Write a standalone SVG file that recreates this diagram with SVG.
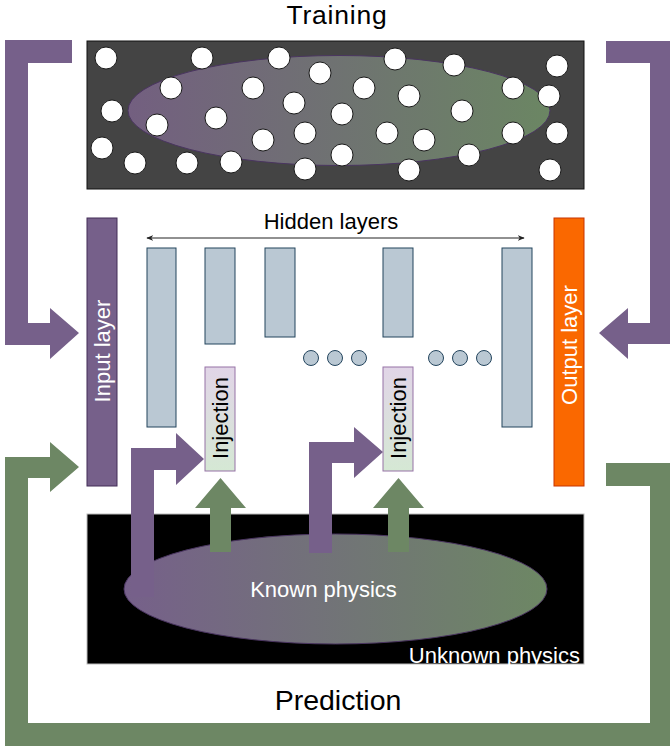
<svg xmlns="http://www.w3.org/2000/svg" width="670" height="748" viewBox="0 0 670 748">
<defs>
<style>
text{font-family:"Liberation Sans",Arial,Helvetica,sans-serif;}
.t22{font-size:22px;}
.big{font-size:28.5px;fill:#000;text-anchor:middle;}
.white{fill:#fff;}
.hid{fill:#bac8d3;stroke:#23445d;stroke-width:1;}
.dot{fill:#bac8d3;stroke:#23445d;stroke-width:1;}
.p{fill:#fff;stroke:#1a1a1a;stroke-width:1;}
.purple{fill:#76608a;}
.green{fill:#6d8764;}
.inj{fill:url(#gInj);stroke:#9673a6;stroke-width:1;}
</style>
<linearGradient id="gTop" x1="0" y1="0" x2="1" y2="0">
<stop offset="0" stop-color="#735f80"/>
<stop offset="1" stop-color="#6b8663"/>
</linearGradient>
<linearGradient id="gBot" x1="0" y1="0" x2="1" y2="0">
<stop offset="0" stop-color="#76608a"/>
<stop offset="1" stop-color="#6d8764"/>
</linearGradient>
<linearGradient id="gInj" x1="0" y1="0" x2="0" y2="1">
<stop offset="0" stop-color="#e1d5e7"/>
<stop offset="1" stop-color="#d5e8d4"/>
</linearGradient>
<marker id="ah" viewBox="0 0 10 10" refX="9" refY="5" markerWidth="7" markerHeight="7" orient="auto-start-reverse" markerUnits="userSpaceOnUse">
<path d="M0,1 L10,5 L0,9 L3,5 Z" fill="#222"/>
</marker>
</defs>
<rect width="670" height="748" fill="#fff"/>

<g id="training-label"><text x="337" y="24" style="font-size:26.5px;letter-spacing:0.8px" fill="#000" text-anchor="middle">Training</text></g>
<g id="prediction-label"><text class="big" x="338" y="710">Prediction</text></g>

<g id="training-data">
<rect x="87" y="41" width="497" height="148" fill="#444" stroke="#111" stroke-width="1"/>
<ellipse cx="339" cy="110.5" rx="211" ry="55" fill="url(#gTop)" stroke="#4a3560" stroke-width="1"/>
<circle class="p" cx="106" cy="58" r="11"/><circle class="p" cx="202" cy="58" r="11"/><circle class="p" cx="279" cy="58" r="11"/><circle class="p" cx="320" cy="73" r="11"/>
<circle class="p" cx="395" cy="59" r="11"/><circle class="p" cx="454" cy="65" r="11"/><circle class="p" cx="557" cy="66" r="11"/><circle class="p" cx="171" cy="88" r="11"/>
<circle class="p" cx="253" cy="88" r="11"/><circle class="p" cx="364" cy="88" r="11"/><circle class="p" cx="409" cy="96" r="11"/><circle class="p" cx="513" cy="88" r="11"/>
<circle class="p" cx="549" cy="96" r="11"/><circle class="p" cx="112" cy="111" r="11"/><circle class="p" cx="294" cy="103" r="11"/><circle class="p" cx="216" cy="118" r="11"/>
<circle class="p" cx="342" cy="114" r="11"/><circle class="p" cx="462" cy="111" r="11"/><circle class="p" cx="157" cy="125" r="11"/><circle class="p" cx="263" cy="140" r="11"/>
<circle class="p" cx="305" cy="133" r="11"/><circle class="p" cx="387" cy="133" r="11"/><circle class="p" cx="424" cy="140" r="11"/><circle class="p" cx="513" cy="133" r="11"/>
<circle class="p" cx="557" cy="133" r="11"/><circle class="p" cx="102" cy="148" r="11"/><circle class="p" cx="135" cy="163" r="11"/><circle class="p" cx="187" cy="163" r="11"/>
<circle class="p" cx="231" cy="162" r="11"/><circle class="p" cx="305" cy="169" r="11"/><circle class="p" cx="342" cy="155" r="11"/><circle class="p" cx="469" cy="155" r="11"/>
<circle class="p" cx="409" cy="170" r="11"/><circle class="p" cx="550" cy="170" r="11"/>
</g>

<g id="physics">
<rect x="87" y="514" width="497" height="150" fill="#000" stroke="#bbb" stroke-width="1"/>
<ellipse cx="335.5" cy="589" rx="211.5" ry="55" fill="url(#gBot)" stroke="#4a3560" stroke-width="1"/>
</g>

<g id="input-layer">
<rect x="87" y="218" width="30" height="268" fill="#76608a" stroke="#432d57" stroke-width="1"/>
<text class="t22 white" text-anchor="middle" x="102" y="351" dy="0.35em" transform="rotate(-90 102 351)">Input layer</text>
</g>

<g id="output-layer">
<rect x="554" y="218" width="30" height="268" fill="#fa6800" stroke="#c73500" stroke-width="1"/>
<text class="t22 white" text-anchor="middle" x="569" y="345" dy="0.35em" transform="rotate(-90 569 345)">Output layer</text>
</g>

<g id="hidden-layers-label"><text class="t22" text-anchor="middle" x="331" y="229" fill="#000">Hidden layers</text></g>

<g id="hidden-1"><rect class="hid" x="147" y="248" width="29" height="179"/></g>
<g id="hidden-2"><rect class="hid" x="205" y="248" width="30" height="96"/></g>
<g id="hidden-3"><rect class="hid" x="265" y="248" width="30" height="89"/></g>
<g id="hidden-4"><rect class="hid" x="383" y="248" width="30" height="89"/></g>
<g id="hidden-5"><rect class="hid" x="502" y="248" width="30" height="179"/></g>

<g id="dots">
<circle class="dot" cx="311" cy="358" r="7.5"/><circle class="dot" cx="335" cy="358" r="7.5"/><circle class="dot" cx="359" cy="358" r="7.5"/>
<circle class="dot" cx="436" cy="358" r="7.5"/><circle class="dot" cx="460" cy="358" r="7.5"/><circle class="dot" cx="484" cy="358" r="7.5"/>
</g>

<g id="injection-1">
<rect class="inj" x="205" y="367" width="30" height="104"/>
<text class="t22" text-anchor="middle" x="220" y="418" dy="0.35em" fill="#000" transform="rotate(-90 220 418)">Injection</text>
</g>
<g id="injection-2">
<rect class="inj" x="383" y="367" width="30" height="104"/>
<text class="t22" text-anchor="middle" x="398" y="418" dy="0.35em" fill="#000" transform="rotate(-90 398 418)">Injection</text>
</g>

<g id="connectors">
<line x1="147" y1="238" x2="524" y2="238" stroke="#222" stroke-width="1" marker-start="url(#ah)" marker-end="url(#ah)"/>
<path class="purple" d="M5,40 H72 V63 H28 V323 H50 V308 L79,333 L50,359 V345 H5 Z"/>
<path class="purple" d="M606,41 H673 V344 H628 V359 L599,333 L628,308 V323 H650 V63 H606 Z"/>
<path class="green" d="M606,463 H673 V746 H5 V457 H50 V442 L79,467 L50,492 V478 H28 V723 H650 V486 H606 Z"/>
<path class="purple" d="M131,597 V448 H176 V433 L204,459 L176,485 V470 H154 V597 Z"/>
<path class="purple" d="M309,553 V442 H354 V427 L383,452 L354,478 V463 H332 V553 Z"/>
<path class="green" d="M210,552 V508 H195 L220.5,478 L246,508 H231 V552 Z"/>
<path class="green" d="M388,552 V508 H373 L398.5,478 L424,508 H409 V552 Z"/>
</g>

<g id="physics-labels">
<text class="t22 white" text-anchor="middle" x="323.5" y="597">Known physics</text>
<text class="t22 white" text-anchor="end" x="580" y="663">Unknown physics</text>
</g>
</svg>
